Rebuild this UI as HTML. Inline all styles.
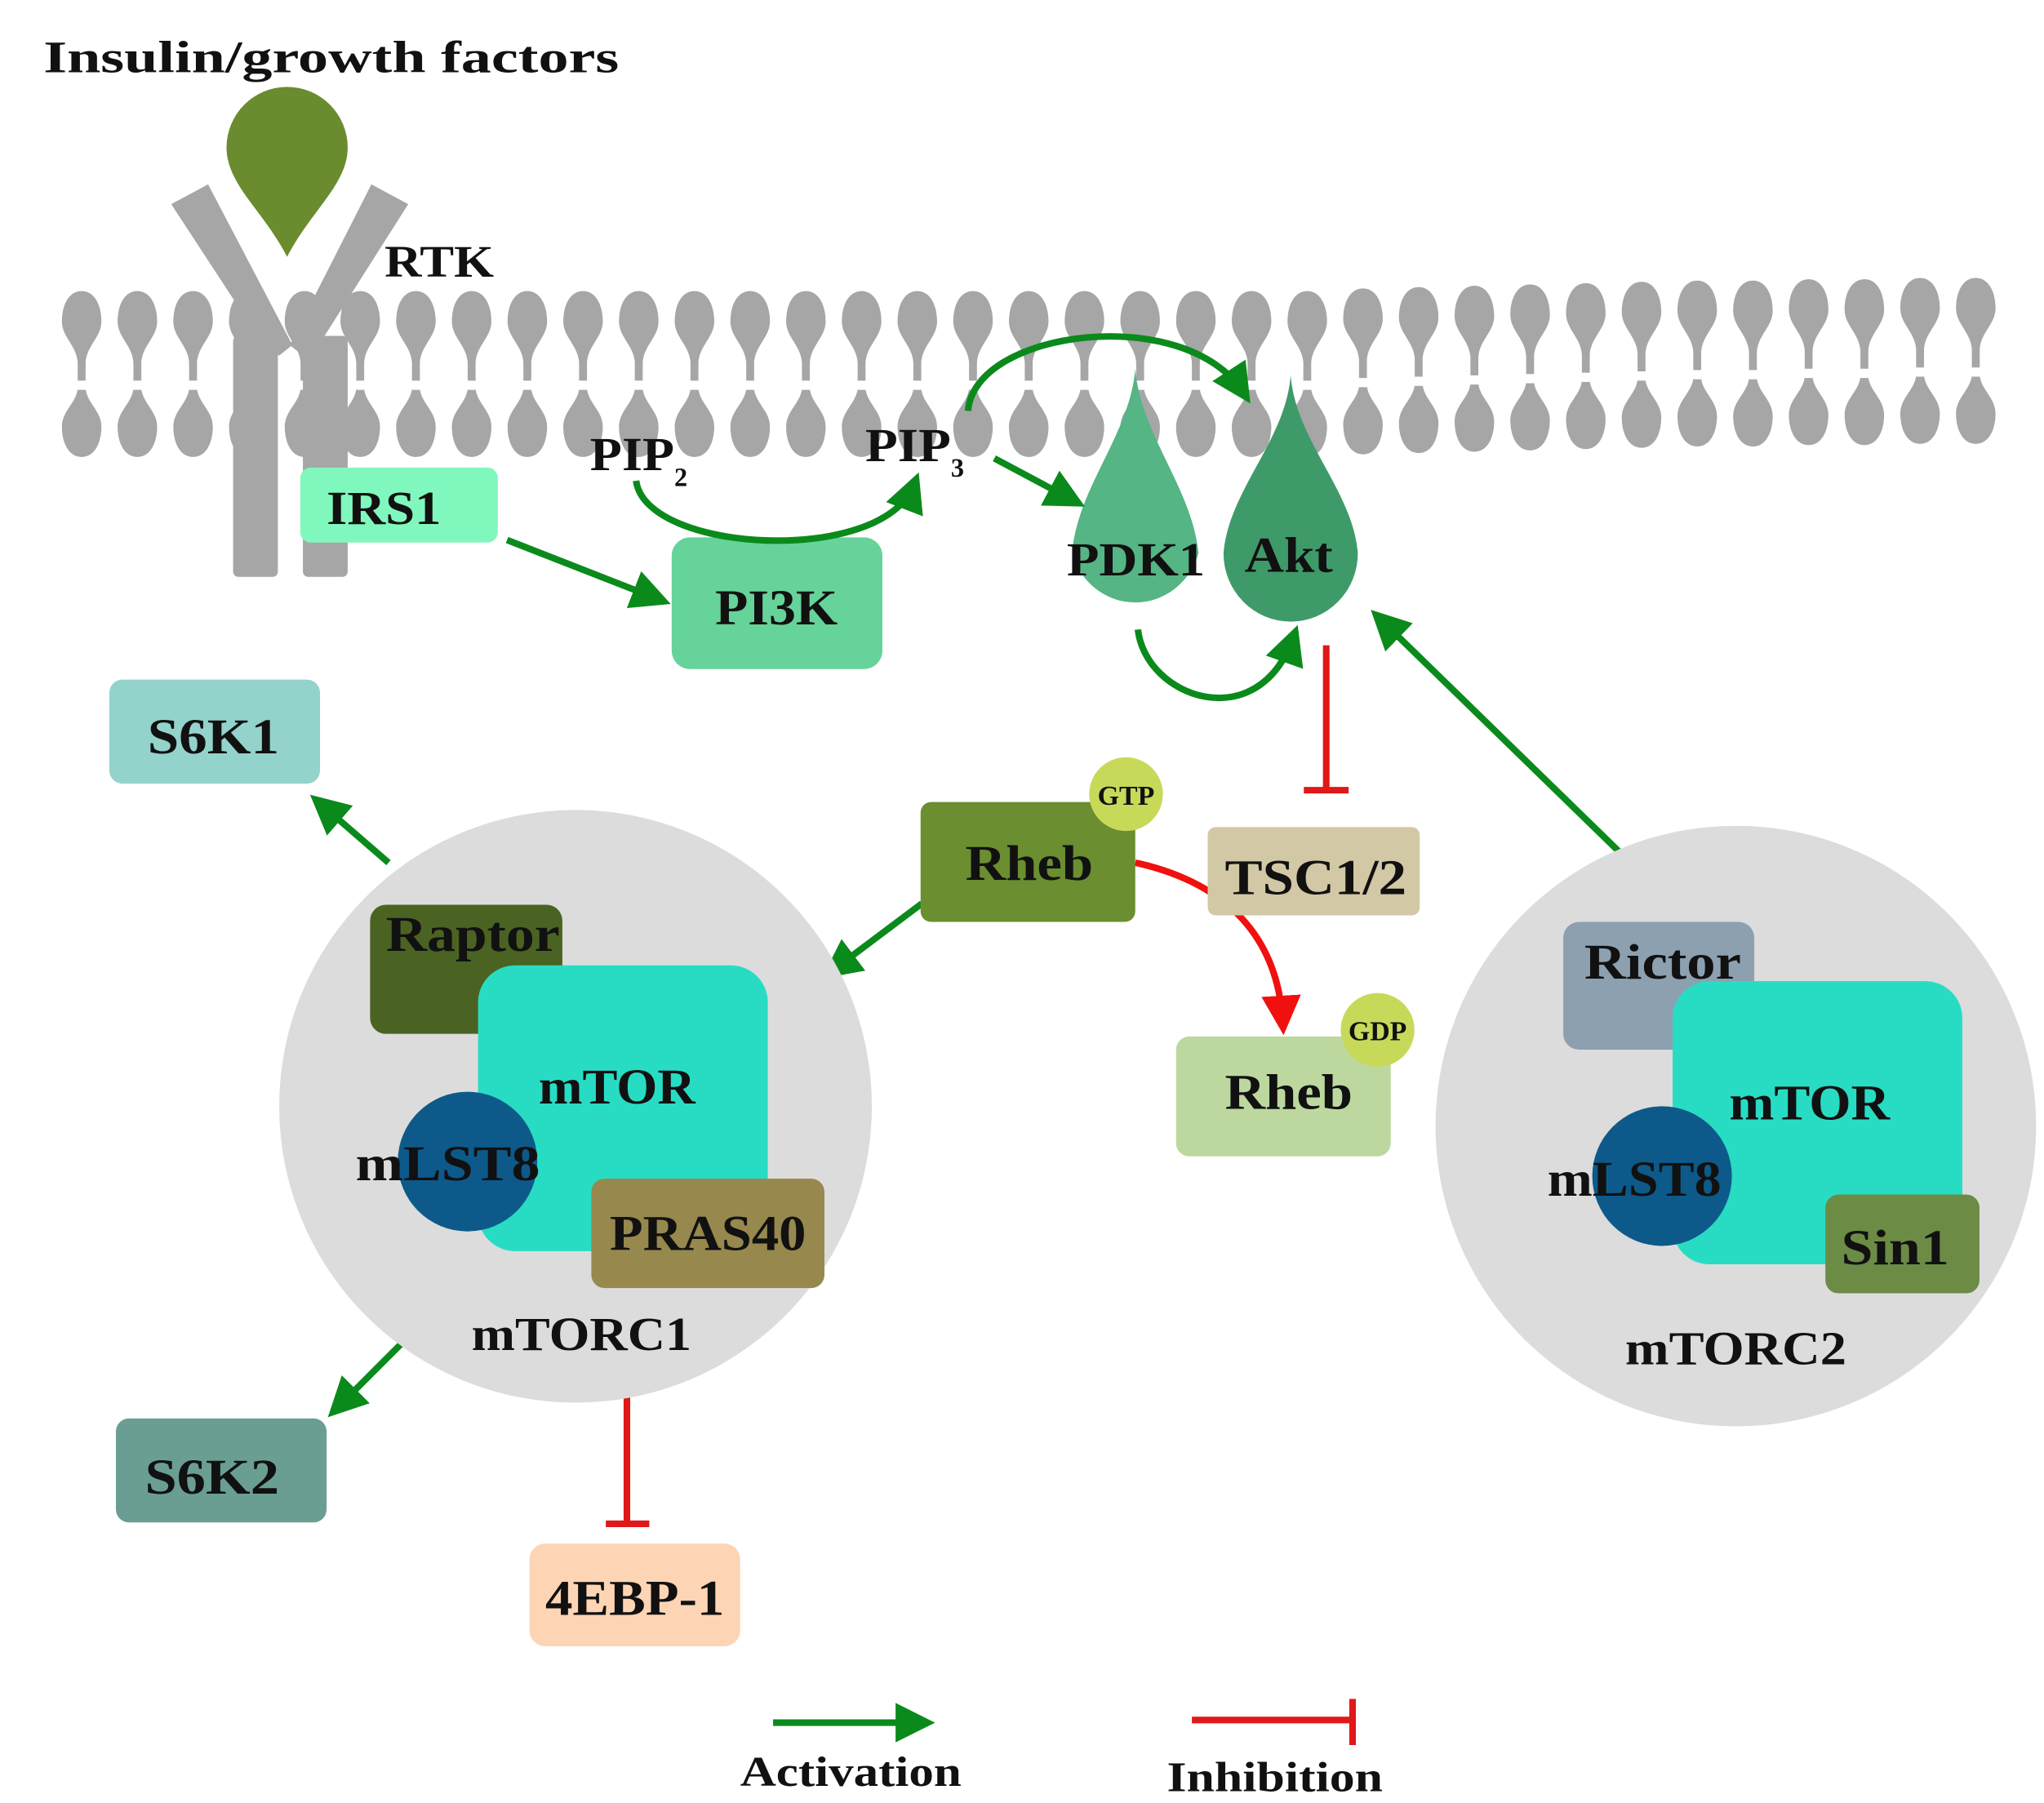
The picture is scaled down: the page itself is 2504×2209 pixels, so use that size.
<!DOCTYPE html>
<html><head><meta charset="utf-8"><style>
html,body{margin:0;padding:0;background:#fff;}
svg{display:block;}
text{font-family:"Liberation Serif",serif;font-weight:bold;fill:#111;}
</style></head><body>
<svg width="2504" height="2209" viewBox="0 0 1552 1369" preserveAspectRatio="none" xmlns="http://www.w3.org/2000/svg">
<defs>
<marker id="ga" markerWidth="6" markerHeight="6" refX="4" refY="3" orient="auto" markerUnits="strokeWidth"><path d="M0,0 L6,3 L0,6 z" fill="#0b8a1c"/></marker>
<marker id="ra" markerWidth="6" markerHeight="6" refX="4" refY="3" orient="auto" markerUnits="strokeWidth"><path d="M0,0 L6,3 L0,6 z" fill="#f01010"/></marker>
<g id="lp" fill="#a6a6a6">
<path d="M0,221 C10,221 15,232 15,244 C15,256 4,262 3,275 L3,289 L-3,289 L-3,275 C-4,262 -15,256 -15,244 C-15,232 -10,221 0,221z"/>
<path d="M0,347 C10,347 15,336 15,324 C15,312 4,306 3,295 L3,297 L-3,297 L-3,295 C-4,306 -15,312 -15,324 C-15,336 -10,347 0,347z"/>
<rect x="-3" y="296" width="6" height="10"/>
</g>
</defs>
<g>
<use href="#lp" x="62"/><use href="#lp" x="104.3"/><use href="#lp" x="146.6"/><use href="#lp" x="188.9"/><use href="#lp" x="231.2"/><use href="#lp" x="273.5"/><use href="#lp" x="315.8"/><use href="#lp" x="358.1"/><use href="#lp" x="400.4"/><use href="#lp" x="442.7"/><use href="#lp" x="485"/><use href="#lp" x="527.3"/><use href="#lp" x="569.6"/><use href="#lp" x="611.9"/><use href="#lp" x="654.2"/><use href="#lp" x="696.5"/><use href="#lp" x="738.8"/><use href="#lp" x="781.1"/><use href="#lp" x="823.4"/><use href="#lp" x="865.7"/><use href="#lp" x="908"/><use href="#lp" x="950.3"/><use href="#lp" x="992.6"/><use href="#lp" x="1034.9" y="-2"/><use href="#lp" x="1077.2" y="-3"/><use href="#lp" x="1119.5" y="-4"/><use href="#lp" x="1161.8" y="-5"/><use href="#lp" x="1204.1" y="-6"/><use href="#lp" x="1246.4" y="-7"/><use href="#lp" x="1288.7" y="-8"/><use href="#lp" x="1331" y="-8"/><use href="#lp" x="1373.3" y="-9"/><use href="#lp" x="1415.6" y="-9"/><use href="#lp" x="1457.9" y="-10"/><use href="#lp" x="1500.2" y="-10"/>
</g>
<text x="33" y="55" font-size="34" textLength="437" lengthAdjust="spacingAndGlyphs">Insulin/growth factors</text>
<!-- RTK -->
<polygon points="130,155 158,140 222,262 212,270 200,262" fill="#a6a6a6"/>
<polygon points="310,155 282,140 220,262 230,270 242,262" fill="#a6a6a6"/>
<rect x="177" y="255" width="34" height="183" rx="4" fill="#a6a6a6"/>
<rect x="230" y="255" width="34" height="183" rx="4" fill="#a6a6a6"/>
<path d="M218,195 C200,160 172,140 172,112 A46,46 0 0 1 264,112 C264,140 236,160 218,195 z" fill="#6a8c2f"/>
<text x="292" y="210" font-size="34" textLength="83" lengthAdjust="spacingAndGlyphs">RTK</text>
<!-- IRS1, PI3K -->
<rect x="228" y="355" width="150" height="57" rx="8" fill="#80f8bd"/>
<text x="248" y="398" font-size="36" textLength="87" lengthAdjust="spacingAndGlyphs">IRS1</text>
<rect x="510" y="408" width="160" height="100" rx="14" fill="#66d39a"/>
<text x="543" y="474" font-size="38" textLength="93" lengthAdjust="spacingAndGlyphs">PI3K</text>
<text x="448" y="357" font-size="36"><tspan textLength="64" lengthAdjust="spacingAndGlyphs">PIP</tspan><tspan font-size="20" dy="12">2</tspan></text>
<text x="657" y="350" font-size="36"><tspan textLength="65" lengthAdjust="spacingAndGlyphs">PIP</tspan><tspan font-size="20" dy="12">3</tspan></text>
<!-- PDK1 / Akt -->
<path d="M862,280 C866,330 905,370 910,420 A50,52 0 0 1 814,420 C818,370 858,330 862,280 z" fill="#55b584"/>
<path d="M980,285 C984,335 1027,372 1031,420 A51,52 0 0 1 929,420 C933,372 976,335 980,285 z" fill="#3f9a6a"/>
<text x="810" y="437" font-size="36" textLength="105" lengthAdjust="spacingAndGlyphs">PDK1</text>
<text x="945" y="434" font-size="38" textLength="67" lengthAdjust="spacingAndGlyphs">Akt</text>
<!-- green arrows -->
<g stroke="#0b8a1c" stroke-width="5" fill="none" marker-end="url(#ga)">
<line x1="385" y1="410" x2="500" y2="455"/>
<path d="M483,365 C490,420 670,430 694,368"/>
<line x1="755" y1="348" x2="815" y2="380"/>
<path d="M735,312 C740,250 900,230 944,298"/>
<path d="M864,478 C870,530 955,560 982,484"/>
<line x1="1240" y1="657" x2="1048" y2="470"/>
<line x1="700" y1="686" x2="632" y2="737"/>
<line x1="295" y1="655" x2="243" y2="610"/>
<line x1="305" y1="1020" x2="256" y2="1069"/>
<line x1="587" y1="1308" x2="700" y2="1308"/>
</g>
<!-- red inhibitions -->
<g stroke="#e01818" stroke-width="5" fill="none">
<line x1="1007" y1="490" x2="1007" y2="600"/><line x1="990" y1="600" x2="1024" y2="600"/>
<line x1="476" y1="1045" x2="476" y2="1157"/><line x1="460" y1="1157" x2="493" y2="1157"/>
<line x1="905" y1="1306" x2="1027" y2="1306"/><line x1="1027" y1="1290" x2="1027" y2="1325"/>
<path d="M862,655 C930,670 970,710 974,776" stroke="#f01010" marker-end="url(#ra)"/>
</g>
<!-- S6K1, Rheb, TSC -->
<rect x="83" y="516" width="160" height="79" rx="10" fill="#93d3cb"/>
<text x="112" y="572" font-size="38" textLength="100" lengthAdjust="spacingAndGlyphs">S6K1</text>
<rect x="699" y="609" width="163" height="91" rx="8" fill="#6b8e30"/>
<text x="733" y="668" font-size="38" textLength="97" lengthAdjust="spacingAndGlyphs">Rheb</text>
<circle cx="855" cy="603" r="28" fill="#c8d95a"/>
<text x="855" y="611" font-size="21" text-anchor="middle">GTP</text>
<rect x="917" y="628" width="161" height="67" rx="6" fill="#d3c8a5"/>
<text x="930" y="679" font-size="38" textLength="138" lengthAdjust="spacingAndGlyphs">TSC1/2</text>
<rect x="893" y="787" width="163" height="91" rx="10" fill="#bcd89f"/>
<text x="930" y="842" font-size="38" textLength="97" lengthAdjust="spacingAndGlyphs">Rheb</text>
<circle cx="1046" cy="782" r="28" fill="#c8d95a"/>
<text x="1046" y="790" font-size="21" text-anchor="middle">GDP</text>
<!-- mTORC1 -->
<circle cx="437" cy="840" r="225" fill="#dcdcdc"/>
<rect x="281" y="687" width="146" height="98" rx="12" fill="#4a6322"/>
<rect x="363" y="733" width="220" height="217" rx="28" fill="#28dcc4"/>
<text x="293" y="722" font-size="38" textLength="132" lengthAdjust="spacingAndGlyphs">Raptor</text>
<text x="409" y="838" font-size="38" textLength="119" lengthAdjust="spacingAndGlyphs">mTOR</text>
<circle cx="355" cy="882" r="53" fill="#0d5a8a"/>
<text x="270" y="896" font-size="38" textLength="140" lengthAdjust="spacingAndGlyphs">mLST8</text>
<rect x="449" y="895" width="177" height="83" rx="10" fill="#97884d"/>
<text x="463" y="949" font-size="38" textLength="149" lengthAdjust="spacingAndGlyphs">PRAS40</text>
<text x="358" y="1025" font-size="36" textLength="167" lengthAdjust="spacingAndGlyphs">mTORC1</text>
<!-- mTORC2 -->
<circle cx="1318" cy="855" r="228" fill="#dcdcdc"/>
<rect x="1187" y="700" width="145" height="97" rx="12" fill="#8ca0b0"/>
<rect x="1270" y="745" width="220" height="215" rx="28" fill="#28dcc4"/>
<text x="1203" y="743" font-size="38" textLength="119" lengthAdjust="spacingAndGlyphs">Rictor</text>
<text x="1313" y="850" font-size="38" textLength="122" lengthAdjust="spacingAndGlyphs">mTOR</text>
<circle cx="1262" cy="893" r="53" fill="#0d5a8a"/>
<text x="1175" y="908" font-size="38" textLength="132" lengthAdjust="spacingAndGlyphs">mLST8</text>
<rect x="1386" y="907" width="117" height="75" rx="10" fill="#6c8b45"/>
<text x="1398" y="960" font-size="38" textLength="82" lengthAdjust="spacingAndGlyphs">Sin1</text>
<text x="1234" y="1036" font-size="36" textLength="168" lengthAdjust="spacingAndGlyphs">mTORC2</text>
<!-- S6K2, 4EBP-1 -->
<rect x="88" y="1077" width="160" height="79" rx="10" fill="#6a9e93"/>
<text x="110" y="1134" font-size="38" textLength="102" lengthAdjust="spacingAndGlyphs">S6K2</text>
<rect x="402" y="1172" width="160" height="78" rx="12" fill="#fdd5b5"/>
<text x="414" y="1226" font-size="38" textLength="136" lengthAdjust="spacingAndGlyphs">4EBP-1</text>
<text x="562" y="1356" font-size="32" textLength="168" lengthAdjust="spacingAndGlyphs">Activation</text>
<text x="886" y="1360" font-size="32" textLength="164" lengthAdjust="spacingAndGlyphs">Inhibition</text>
</svg>
</body></html>
